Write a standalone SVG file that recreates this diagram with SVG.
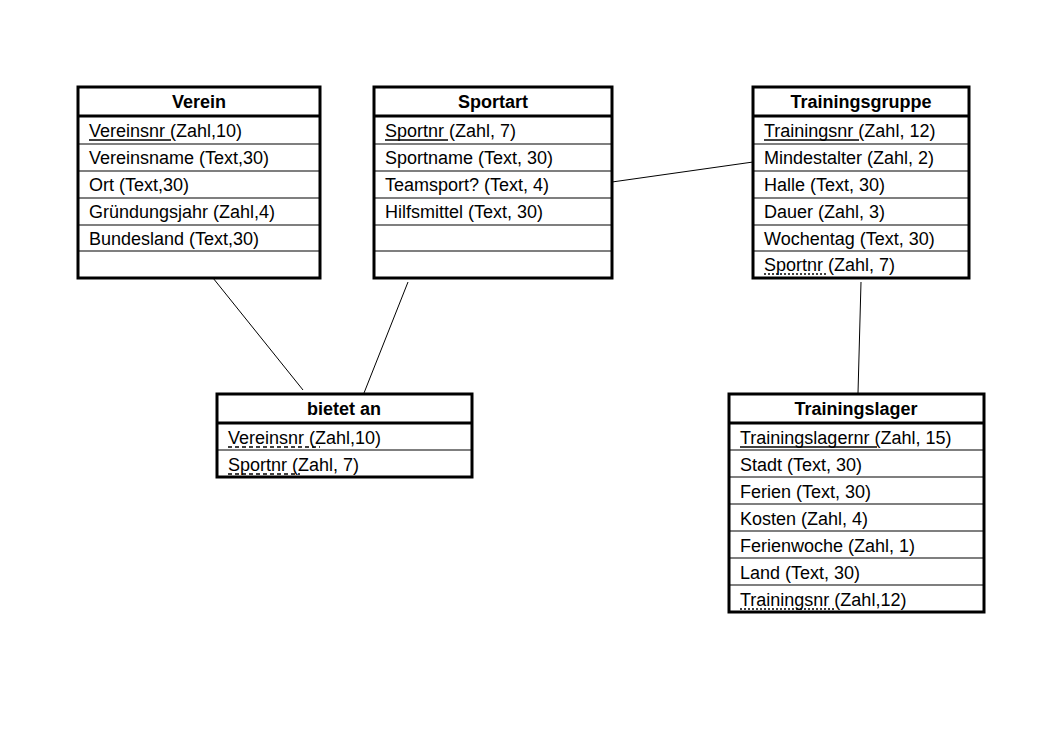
<svg xmlns="http://www.w3.org/2000/svg" width="1042" height="742" viewBox="0 0 1042 742">
<style>
rect.box{fill:#fff;stroke:#000;stroke-width:3}
line.sep{stroke:#000;stroke-width:1.2}
line.hs{stroke:#000;stroke-width:3}
text{font-family:"Liberation Sans",Arial,sans-serif;font-size:18px;fill:#000}
text.h{font-weight:bold;text-anchor:middle}
line.pk{stroke:#000;stroke-width:1.5}
line.fk{stroke:#000;stroke-width:1.5;stroke-dasharray:4 3}
#connectors line{stroke:#000;stroke-width:1}
</style>
<rect width="1042" height="742" fill="#fff"/>
<g id="connectors">
<line x1="213" y1="278" x2="303" y2="390"/>
<line x1="408" y1="282" x2="364" y2="393"/>
<line x1="612" y1="182" x2="753" y2="162"/>
<line x1="861" y1="282" x2="858" y2="393"/>
</g>
<g id="verein">
<rect class="box" x="78" y="87" width="242" height="191"/>
<line class="hs" x1="78" y1="116" x2="320" y2="116"/>
<line class="sep" x1="78" y1="144" x2="320" y2="144"/>
<line class="sep" x1="78" y1="171" x2="320" y2="171"/>
<line class="sep" x1="78" y1="198" x2="320" y2="198"/>
<line class="sep" x1="78" y1="225" x2="320" y2="225"/>
<line class="sep" x1="78" y1="251" x2="320" y2="251"/>
<text class="h" x="199" y="108">Verein</text>
<text x="89" y="137">Vereinsnr (Zahl,10)</text>
<line class="pk" x1="89" y1="140" x2="171" y2="140"/>
<text x="89" y="164">Vereinsname (Text,30)</text>
<text x="89" y="191">Ort (Text,30)</text>
<text x="89" y="218">Gründungsjahr (Zahl,4)</text>
<text x="89" y="245">Bundesland (Text,30)</text>
</g>
<g id="sportart">
<rect class="box" x="374" y="87" width="238" height="191"/>
<line class="hs" x1="374" y1="116" x2="612" y2="116"/>
<line class="sep" x1="374" y1="144" x2="612" y2="144"/>
<line class="sep" x1="374" y1="171" x2="612" y2="171"/>
<line class="sep" x1="374" y1="198" x2="612" y2="198"/>
<line class="sep" x1="374" y1="225" x2="612" y2="225"/>
<line class="sep" x1="374" y1="251" x2="612" y2="251"/>
<text class="h" x="493" y="108">Sportart</text>
<text x="385" y="137">Sportnr (Zahl, 7)</text>
<line class="pk" x1="385" y1="140" x2="448" y2="140"/>
<text x="385" y="164">Sportname (Text, 30)</text>
<text x="385" y="191">Teamsport? (Text, 4)</text>
<text x="385" y="218">Hilfsmittel (Text, 30)</text>
</g>
<g id="trainingsgruppe">
<rect class="box" x="753" y="87" width="216" height="191"/>
<line class="hs" x1="753" y1="116" x2="969" y2="116"/>
<line class="sep" x1="753" y1="144" x2="969" y2="144"/>
<line class="sep" x1="753" y1="171" x2="969" y2="171"/>
<line class="sep" x1="753" y1="198" x2="969" y2="198"/>
<line class="sep" x1="753" y1="225" x2="969" y2="225"/>
<line class="sep" x1="753" y1="251" x2="969" y2="251"/>
<text class="h" x="861" y="108">Trainingsgruppe</text>
<text x="764" y="137">Trainingsnr (Zahl, 12)</text>
<line class="pk" x1="764" y1="140" x2="859" y2="140"/>
<text x="764" y="164">Mindestalter (Zahl, 2)</text>
<text x="764" y="191">Halle (Text, 30)</text>
<text x="764" y="218">Dauer (Zahl, 3)</text>
<text x="764" y="245">Wochentag (Text, 30)</text>
<text x="764" y="271">Sportnr (Zahl, 7)</text>
<line class="fk" x1="764" y1="274" x2="827" y2="274" style="stroke-dasharray:2 2"/>
</g>
<g id="bietet-an">
<rect class="box" x="217" y="394" width="255" height="83"/>
<line class="hs" x1="217" y1="423" x2="472" y2="423"/>
<line class="sep" x1="217" y1="450" x2="472" y2="450"/>
<text class="h" x="344" y="415">bietet an</text>
<text x="228" y="444">Vereinsnr (Zahl,10)</text>
<line class="fk" x1="228" y1="447" x2="320" y2="447"/>
<text x="228" y="471">Sportnr (Zahl, 7)</text>
<line class="fk" x1="228" y1="474" x2="300" y2="474"/>
</g>
<g id="trainingslager">
<rect class="box" x="729" y="394" width="255" height="218"/>
<line class="hs" x1="729" y1="423" x2="984" y2="423"/>
<line class="sep" x1="729" y1="450" x2="984" y2="450"/>
<line class="sep" x1="729" y1="477" x2="984" y2="477"/>
<line class="sep" x1="729" y1="504" x2="984" y2="504"/>
<line class="sep" x1="729" y1="531" x2="984" y2="531"/>
<line class="sep" x1="729" y1="558" x2="984" y2="558"/>
<line class="sep" x1="729" y1="585" x2="984" y2="585"/>
<text class="h" x="856" y="415">Trainingslager</text>
<text x="740" y="444">Trainingslagernr (Zahl, 15)</text>
<line class="pk" x1="740" y1="447" x2="877" y2="447"/>
<text x="740" y="471">Stadt (Text, 30)</text>
<text x="740" y="498">Ferien (Text, 30)</text>
<text x="740" y="525">Kosten (Zahl, 4)</text>
<text x="740" y="552">Ferienwoche (Zahl, 1)</text>
<text x="740" y="579">Land (Text, 30)</text>
<text x="740" y="606">Trainingsnr (Zahl,12)</text>
<line class="fk" x1="740" y1="609" x2="835" y2="609" style="stroke-dasharray:2 2"/>
</g>
</svg>
